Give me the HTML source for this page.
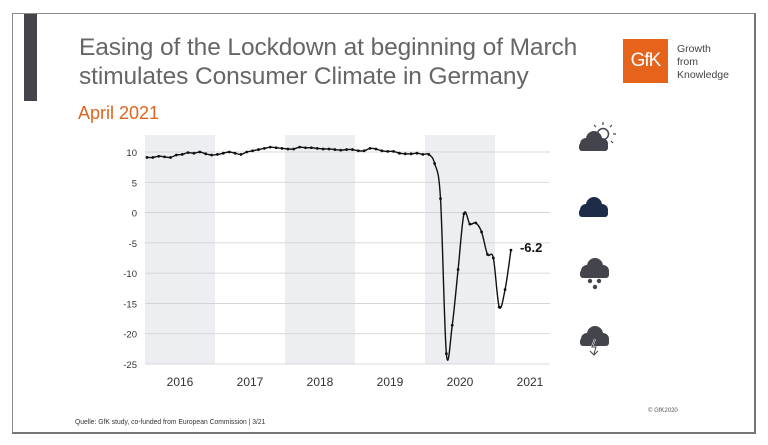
<!DOCTYPE html>
<html><head><meta charset="utf-8"><style>
body{margin:0;width:768px;height:445px;background:#fff;overflow:hidden;font-family:"Liberation Sans",sans-serif;position:relative}
.abs{position:absolute}
</style></head><body>
<div class="abs" style="left:12px;top:13px;width:741px;height:418px;border:1px solid #8a8a8a;border-right:2px solid #777;border-bottom:2px solid #777;"></div>
<div class="abs" style="left:24px;top:14px;width:13px;height:87px;background:#43444c"></div>
<div class="abs" style="left:79px;top:33px;font-size:24.5px;line-height:29px;color:#666;letter-spacing:-0.1px">Easing of the Lockdown at beginning of March<br>stimulates Consumer Climate in Germany</div>
<div class="abs" style="left:78px;top:103px;font-size:18px;color:#e0641e">April 2021</div>
<div class="abs" style="left:623px;top:39px;width:45px;height:44px;background:#e6631c;color:#fff;font-size:19px;line-height:44px;text-align:center;letter-spacing:-1px">GfK</div>
<div class="abs" style="left:677px;top:43px;font-size:10.5px;line-height:13px;color:#444">Growth<br>from<br>Knowledge</div>
<div class="abs" style="left:75px;top:417px;font-size:7.5px;color:#333;transform:scaleX(0.9);transform-origin:left">Quelle: GfK study, co-funded from European Commission | 3/21</div>
<div class="abs" style="left:648px;top:408px;font-size:6px;color:#555">© GfK2020</div>
<svg class="abs" style="left:0;top:0" width="768" height="445" id="chart">
<defs><g id="cl"><circle cx="-7" cy="3" r="6"/><circle cx="1" cy="-2" r="8"/><circle cx="9" cy="3" r="6"/><rect x="-14" y="2" width="29" height="8" rx="3"/></g></defs>
<g id="plot"></g>
<g fill="#43444c"><circle cx="603" cy="134" r="5.5" fill="none" stroke="#43444c" stroke-width="1.5"/><path d="M603 125v-3M610 127l2-2M613 134h3M596 127l-2-2M611 141l2 2" stroke="#43444c" stroke-width="1.2"/><use href="#cl" x="593" y="141"/></g>
<g fill="#1e2c4a"><use href="#cl" x="593" y="207"/></g>
<g fill="#43444c"><use href="#cl" x="594" y="268"/><circle cx="590" cy="281" r="2.2"/><circle cx="599" cy="281" r="2.2"/><circle cx="595" cy="287" r="2.2"/></g>
<g fill="#43444c"><use href="#cl" x="594" y="336"/><path d="M595 339l-3 8h4l-2 7" stroke="#fff" stroke-width="2" fill="none"/><path d="M595 339l-3 8h4l-2 7M590 351l4 4 4-4" stroke="#43444c" stroke-width="1" fill="none"/></g>
</svg>
<script>
const years=["2016","2017","2018","2019","2020","2021"];
const yTicks=[10,5,0,-5,-10,-15,-20,-25];
const values=[9.1,9.1,9.3,9.2,9.1,9.5,9.6,9.9,9.8,10.0,9.7,9.5,
9.6,9.8,10.0,9.8,9.6,10.0,10.2,10.4,10.6,10.8,10.7,10.6,
10.5,10.5,10.8,10.7,10.7,10.6,10.5,10.5,10.4,10.3,10.4,10.4,
10.2,10.2,10.6,10.5,10.2,10.1,10.1,9.8,9.7,9.7,9.8,9.6,
9.6,8.1,2.3,-23.3,-18.6,-9.4,-0.2,-1.9,-1.7,-3.2,-6.9,-7.5,-15.6,-12.7,-6.2];
const lastLabel="-6.2";
const NS="http://www.w3.org/2000/svg",plot=document.getElementById('plot');
const x0=145,yearW=70,monthW=5.87,xR=550;
const xm=i=>147+i*monthW;
const y=v=>152+(10-v)*212/35;
function mk(t,a){const e=document.createElementNS(NS,t);for(const k in a)e.setAttribute(k,a[k]);plot.appendChild(e);return e;}
years.forEach((yr,i)=>{
 if(i%2===0&&i<5){const r=mk('rect',{x:x0+i*yearW,y:135,width:yearW,height:229,fill:'#eceef1'});
 
 }
 const t=mk('text',{x:x0+(i+0.5)*yearW,y:386,'font-size':12,fill:'#333','text-anchor':'middle'});t.textContent=yr;
 
 
});
yTicks.forEach(v=>{
 const l=mk('line',{x1:x0,x2:xR,y1:y(v),y2:y(v),stroke:'#cfcfcf','stroke-width':0.8});
 
 
 const t=mk('text',{x:137,y:y(v)+4,'font-size':9.5,fill:'#333','text-anchor':'end'});t.textContent=v;
 
 
});
const pts=values.map((v,i)=>[xm(i),y(v)]);
let d='M'+pts[0][0]+' '+pts[0][1];
for(let i=0;i<pts.length-1;i++){const p0=pts[Math.max(0,i-1)],p1=pts[i],p2=pts[i+1],p3=pts[Math.min(pts.length-1,i+2)];
 d+=` C${p1[0]+(p2[0]-p0[0])/6} ${p1[1]+(p2[1]-p0[1])/6} ${p2[0]-(p3[0]-p1[0])/6} ${p2[1]-(p3[1]-p1[1])/6} ${p2[0]} ${p2[1]}`;}
const line=mk('path',{d:d,fill:'none',stroke:'#111','stroke-width':1.4});


pts.forEach(p=>{const c=mk('circle',{cx:p[0],cy:p[1],r:1.4,fill:'#111'});
 
 });
const lp=pts[pts.length-1];
const lb=mk('text',{x:lp[0]+9,y:lp[1]+2,'font-size':13,'font-weight':'bold',fill:'#111'});lb.textContent=lastLabel;


</script>
</body></html>
